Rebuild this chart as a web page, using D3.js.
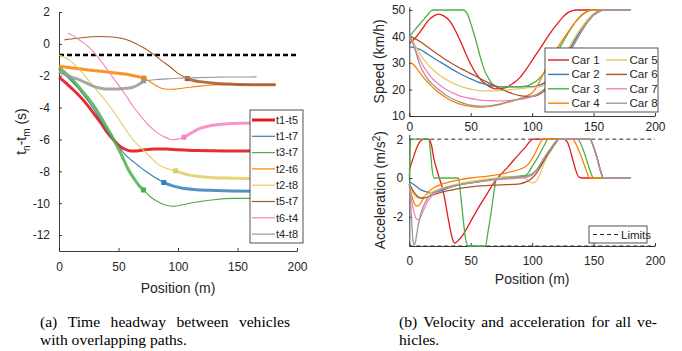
<!DOCTYPE html>
<html><head><meta charset="utf-8">
<script src="https://cdn.jsdelivr.net/npm/d3@7"></script>
<style>
body{margin:0;background:#fff}
svg{display:block}
</style>
</head><body>
<svg id="c" width="682" height="351"></svg>
<script>
// ---------------- DATA ----------------
const xTicks = [0, 50, 100, 150, 200];
const hwTicksY = [-12, -10, -8, -6, -4, -2, 0, 2];
const speedTicksY = [10, 20, 30, 40, 50];
const accelTicksY = [-2, 0, 2];
const headwayLimit = -0.7;
const accelLimits = [2, -3.5];

const pairNames = ["t1-t5", "t1-t7", "t3-t7", "t2-t6", "t2-t8", "t5-t7", "t6-t4", "t4-t8"];
const hw_t1t5 = [[0,-2.1],[5,-2.4],[10,-2.75],[15,-3.1],[20,-3.5],[25,-3.95],[30,-4.45],[35,-4.95],[40,-5.5],[45,-5.95],[50,-6.35],[55,-6.6],[60,-6.72],[65,-6.72],[72,-6.65],[80,-6.6],[90,-6.6],[100,-6.65],[115,-6.7],[140,-6.72],[165,-6.72]];
const hw_t1t7 = [[0,-1.65],[5,-1.95],[10,-2.3],[15,-2.7],[20,-3.15],[25,-3.65],[30,-4.2],[35,-4.8],[40,-5.4],[45,-5.95],[50,-6.45],[55,-6.9],[60,-7.25],[66,-7.6],[72,-7.95],[80,-8.35],[88,-8.7],[95,-8.9],[103,-9.05],[115,-9.15],[132,-9.2],[165,-9.25]];
const hw_t3t7 = [[0,-1.5],[5,-1.8],[10,-2.15],[15,-2.55],[20,-3.0],[26,-3.55],[32,-4.2],[38,-4.95],[43,-5.6],[48,-6.3],[53,-7.05],[58,-7.85],[63,-8.45],[67,-8.87],[71,-9.17],[76,-9.55],[81,-9.82],[86,-10.02],[91,-10.15],[96,-10.2],[104,-10.1],[110,-10.0],[118,-9.9],[130,-9.78],[146,-9.7],[165,-9.7]];
const hw_t2t6 = [[0,-1.4],[10,-1.5],[20,-1.6],[30,-1.68],[39,-1.75],[50,-1.85],[60,-1.95],[66,-2.05],[71.5,-2.15],[76,-2.35],[81,-2.6],[86,-2.78],[91,-2.85],[96,-2.85],[102,-2.8],[110,-2.72],[118,-2.65],[126,-2.6],[133,-2.57],[150,-2.55],[170,-2.55],[182,-2.56]];
const hw_t2t8 = [[0,-0.7],[5,-0.85],[10,-1.1],[15,-1.45],[20,-1.85],[25,-2.3],[30,-2.75],[35,-3.2],[40,-3.65],[45,-4.15],[50,-4.7],[55,-5.25],[60,-5.8],[65,-6.25],[70,-6.6],[76,-7.05],[83,-7.55],[90,-7.8],[98,-7.97],[105,-8.15],[112,-8.27],[118.5,-8.33],[130,-8.4],[146,-8.43],[165,-8.45]];
const hw_t5t7 = [[4.5,0.25],[15,0.35],[25,0.43],[33,0.46],[40,0.45],[47,0.42],[55,0.3],[64,0.04],[70,-0.2],[76.5,-0.5],[81,-0.75],[87,-1.1],[93,-1.42],[100,-1.85],[107.8,-2.18],[113,-2.3],[118.5,-2.37],[130,-2.47],[146,-2.53],[165,-2.56],[182,-2.57]];
const hw_t6t4 = [[7.6,0.68],[12,0.5],[18,0.2],[24.6,-0.17],[30,-0.6],[34.5,-1.0],[40,-1.55],[45,-2.1],[48.7,-2.45],[55,-3.1],[62,-3.9],[70,-4.65],[76.5,-5.2],[83,-5.6],[90.5,-5.9],[95,-6.02],[100,-5.98],[105,-5.86],[111,-5.6],[118.5,-5.3],[125,-5.17],[132.5,-5.08],[145,-5.0],[165,-4.97]];
const hw_t4t8 = [[0,-1.74],[5,-1.92],[10,-2.08],[15,-2.2],[20,-2.35],[27,-2.6],[35,-2.78],[43,-2.84],[50,-2.83],[56,-2.79],[62,-2.72],[67,-2.55],[71,-2.32],[80,-2.25],[90.5,-2.2],[100,-2.16],[115,-2.12],[132.5,-2.09],[150,-2.08],[166,-2.07]];
// position (m) where each headway curve changes between thick and thin
const hwMarkerPos = [null, 88, 71, 71.5, 98, 107.8, 105, 71];
const hwThickFirst = [true, false, true, true, false, false, false, true];

const carNames = ["Car 1", "Car 2", "Car 3", "Car 4", "Car 5", "Car 6", "Car 7", "Car 8"];
const speed_car1 = [[0,37.4],[5,39.5],[10,42.5],[15,45.8],[20,47.8],[24,48.4],[28,47.8],[33,45.8],[38,41.8],[42,37.8],[46,33.5],[50,29.5],[55,25.5],[60,22.8],[65,21.2],[71,20.2],[78,20.6],[85,22.5],[90,24.5],[95,27.5],[100,31],[105,34.5],[110,38],[115,41.5],[120,44.5],[125,47.3],[129,49],[133,49.8],[136,50],[180,50]];
const speed_car2 = [[0,36.1],[5,35.7],[10,34.8],[15,33.3],[20,31.8],[25,30.4],[30,29],[35,27.6],[40,26.3],[45,25.1],[50,24],[55,23],[60,22.2],[65,21.6],[70,21.2],[75,21],[80,21],[90,21],[100,21.1],[105,21.5],[110,22.5],[115,24.5],[120,27.5],[125,31],[130,35],[135,39],[140,42.5],[145,45.5],[150,48],[155,49.5],[158,50],[180,50]];
const speed_car3 = [[0,40],[5,42.8],[10,45.5],[15,48.2],[18,49.8],[20,50],[44,50],[47,48.7],[51,43.5],[54.5,38],[57.7,32.4],[61,27.5],[64.5,24.2],[67,22.4],[70,21.4],[74,21.1],[85,21.1],[95,21.3],[100,22.2],[105,23.8],[110,26.5],[115,30],[120,33.8],[125,37.8],[130,41.8],[135,45.3],[140,48],[145,49.5],[150,50],[180,50]];
const speed_car4 = [[0,30.3],[3,29.5],[6,28],[9,26.1],[12,24.3],[16,22.2],[20,20.4],[25,18.5],[30,16.9],[35,15.6],[40,14.7],[45,14],[50,13.6],[55,13.4],[60,13.4],[65,13.6],[70,14],[75,14.5],[80,15.1],[85,15.8],[90,16.6],[95,17.5],[100,18.7],[105,22],[110,26.8],[115,31.3],[120,35.3],[125,38.8],[130,42.2],[135,45.3],[140,47.8],[145,49.5],[148,50],[180,50]];
const speed_car5 = [[0,40],[3,38],[6,35.5],[10,32.5],[15,29.5],[20,27.2],[25,25.3],[30,23.8],[35,22.5],[40,21.5],[45,20.7],[50,20.1],[55,19.7],[60,19.5],[70,19.5],[80,19.8],[90,20.3],[100,20.8],[105,21],[108,21.3],[112,22.5],[116,24.8],[120,27.8],[125,31.8],[130,35.8],[135,39.8],[140,43.3],[145,46.3],[150,48.6],[155,49.8],[158,50],[180,50]];
const speed_car6 = [[0,40],[5,39.1],[10,37.7],[15,36],[20,34.3],[25,32.7],[30,31.1],[35,29.7],[40,28.4],[45,27.2],[50,26],[55,24.8],[60,23.6],[65,22.4],[70,21.2],[75,20.1],[80,19.1],[85,18.3],[90,17.7],[95,17.4],[100,17.4],[105,18],[110,19.5],[115,22],[120,25.5],[125,29.5],[130,33.8],[135,38],[140,42],[145,45.5],[150,48.2],[155,49.7],[158,50],[180,50]];
const speed_car7 = [[0,40],[3,37.5],[6,34],[10,30],[15,26.3],[20,23.6],[25,21.6],[30,20],[35,18.8],[40,17.8],[45,17.1],[50,16.6],[55,16.2],[60,15.9],[65,15.8],[70,15.7],[75,15.7],[80,15.8],[85,16],[90,16.3],[95,16.7],[100,17.3],[105,18.4],[110,20],[115,22.5],[120,25.8],[125,29.6],[130,33.7],[135,37.8],[140,41.8],[145,45.3],[150,48.2],[155,49.7],[158,50],[180,50]];
const speed_car8 = [[0,40],[2,38.5],[4,36],[6,33],[8,30],[10,27.8],[13,25.3],[16,23.3],[20,21.5],[25,19.5],[30,17.8],[35,16.5],[40,15.5],[45,14.7],[50,14.1],[55,13.8],[60,13.7],[65,13.8],[70,14.2],[75,14.7],[80,15.3],[85,15.9],[90,16.4],[95,16.9],[100,17.5],[105,18.5],[110,20.2],[115,22.6],[120,25.8],[125,29.6],[130,33.7],[135,37.8],[140,41.8],[145,45.3],[150,48.2],[155,49.7],[158,50],[180,50]];

const accel_car1 = [[0,0.4],[3,1.0],[6,1.55],[9,1.9],[12,2],[16,2],[18,1.7],[20,1.0],[24,0.1],[28,-0.8],[32,-2.2],[35,-3.1],[37,-3.35],[40,-3.2],[44,-2.9],[47,-2.58],[52,-2.0],[57.7,-1.38],[62,-0.95],[66,-0.53],[70,-0.15],[74,0.15],[80,0.55],[87.5,1.1],[94,1.55],[101,2],[126,2],[129,1.8],[132,1.2],[135,0.5],[138,0.05],[140,0],[180,0]];
const accel_car2 = [[0,-0.19],[4,-0.35],[8,-0.55],[12,-0.68],[17,-0.75],[22,-0.73],[28,-0.6],[35,-0.45],[45,-0.3],[55,-0.2],[65,-0.1],[75,-0.02],[85,0.05],[95,0.1],[100,0.2],[105,0.5],[110,0.95],[115,1.4],[119,1.8],[122,2],[147,2],[150,1.6],[153,1],[156,0.3],[158,0],[180,0]];
const accel_car3 = [[0,0],[0.5,1],[1,2],[15.7,2],[17,1.5],[18.5,0.5],[20,0],[40,0],[42,-1],[44,-2.2],[46,-3.2],[48,-3.5],[62,-3.5],[64,-2.8],[67,-1.6],[69,-0.7],[71.3,0],[80,0.05],[90,0.1],[95,0.15],[100,0.6],[105,1.1],[110,1.7],[113,2],[137,2],[140,1.7],[144,1],[147,0.4],[150,0],[180,0]];
const accel_car4 = [[0,-0.3],[2,-0.9],[4,-1.3],[6,-1.44],[8,-1.4],[11,-1.1],[15,-0.75],[20,-0.5],[25,-0.35],[30,-0.25],[40,-0.1],[50,0],[60,0.07],[70,0.15],[80,0.28],[90,0.45],[95,0.6],[99,0.9],[103,1.35],[106,1.75],[109,2],[133,2],[136,1.7],[140,1.1],[144,0.4],[147,0],[180,0]];
const accel_car5 = [[0,-0.3],[3,-0.75],[6,-1.0],[9,-1.05],[12,-0.95],[16,-0.8],[22,-0.62],[30,-0.45],[40,-0.3],[50,-0.18],[60,-0.08],[70,0],[80,0.05],[88,0.05],[95,-0.05],[98,-0.2],[101,-0.25],[104,-0.1],[107,0.3],[110,0.8],[114,1.3],[118,1.7],[122,2],[147,2],[150,1.6],[153,1],[156,0.3],[158,0],[180,0]];
const accel_car6 = [[0,-0.3],[3,-0.65],[6,-0.9],[9,-1.02],[12,-1.03],[16,-0.95],[20,-0.85],[28,-0.7],[36,-0.6],[45,-0.5],[55,-0.42],[65,-0.38],[75,-0.35],[85,-0.33],[90,-0.3],[95,-0.2],[99,-0.05],[103,0.2],[107,0.6],[111,1.05],[115,1.45],[119,1.8],[122,2],[147,2],[150,1.6],[153,1],[156,0.3],[158,0],[180,0]];
const accel_car7 = [[0,-0.5],[2,-1.2],[4,-1.8],[6,-2.12],[8,-2.15],[10,-1.9],[13,-1.45],[16,-1.1],[20,-0.82],[25,-0.62],[30,-0.5],[40,-0.35],[50,-0.25],[60,-0.17],[70,-0.1],[80,-0.04],[90,0],[96,0.05],[100,0.15],[104,0.45],[108,0.85],[112,1.25],[116,1.6],[119,1.85],[122,2],[147,2],[150,1.6],[153,1],[156,0.3],[158,0],[180,0]];
const accel_car8 = [[0,-0.3],[1,-1.2],[2,-2.3],[3,-3.2],[4,-3.45],[5,-3.3],[6,-2.9],[8,-2.2],[10,-1.7],[13,-1.25],[16,-0.95],[20,-0.75],[25,-0.6],[30,-0.5],[40,-0.35],[50,-0.25],[60,-0.15],[70,-0.06],[80,0],[90,0.05],[96,0.1],[100,0.2],[104,0.45],[108,0.85],[112,1.25],[116,1.6],[119,1.85],[122,2],[147,2],[150,1.6],[153,1],[156,0.3],[158,0],[180,0]];

// ---------------- BUILD ----------------
const colors = ["#e41a1c","#377eb8","#4daf4a","#ff7f00","#e2cc61","#a65628","#f781bf","#999999"];
const headway = [hw_t1t5, hw_t1t7, hw_t3t7, hw_t2t6, hw_t2t8, hw_t5t7, hw_t6t4, hw_t4t8];
const speeds = [speed_car1, speed_car2, speed_car3, speed_car4, speed_car5, speed_car6, speed_car7, speed_car8];
const accels = [accel_car1, accel_car2, accel_car3, accel_car4, accel_car5, accel_car6, accel_car7, accel_car8];

const FONT = '"Liberation Sans", Arial, Helvetica, sans-serif';
const INK = "#262626";
const svg = d3.select("#c");

const xL = d3.scaleLinear().domain([0, 200]).range([59, 297]);
const yL = d3.scaleLinear().domain([-13, 2]).range([251, 12]);
const xR = d3.scaleLinear().domain([0, 200]).range([409.3, 655]);
const yS = d3.scaleLinear().domain([10, 51.2]).range([116, 6.8]);
const yA = d3.scaleLinear().domain([-3.5, 2.25]).range([246, 134.3]);

function styleAxis(g) {
  g.attr("font-family", FONT).attr("font-size", 12);
  g.select(".domain").attr("stroke", INK).attr("stroke-width", 0.9);
  g.selectAll(".tick line").attr("stroke", INK).attr("stroke-width", 0.9);
  g.selectAll(".tick text").attr("fill", INK);
}
function drawAxes(x, y, xt, yt, xpad, ypad) {
  const gx = svg.append("g").attr("transform", `translate(0,${y.range()[0]})`)
    .call(d3.axisBottom(x).tickValues(xt).tickSizeInner(-3).tickSizeOuter(0).tickPadding(xpad).tickFormat(d => String(d)));
  styleAxis(gx);
  const gy = svg.append("g").attr("transform", `translate(${x.range()[0]},0)`)
    .call(d3.axisLeft(y).tickValues(yt).tickSizeInner(-3).tickSizeOuter(0).tickPadding(ypad).tickFormat(d => String(d)));
  styleAxis(gy);
}

// ----- Left: headway -----
drawAxes(xL, yL, xTicks, hwTicksY, 11, 9);
svg.append("line").attr("x1", xL(0)).attr("x2", xL(200)).attr("y1", yL(headwayLimit)).attr("y2", yL(headwayLimit))
  .attr("stroke", "#000").attr("stroke-width", 2.6).attr("stroke-dasharray", "5,3");

const lineL = d3.line().x(d => xL(d[0])).y(d => yL(d[1])).curve(d3.curveMonotoneX);
const THICK = 3, THIN = 1.1;
headway.forEach((pts, i) => {
  const c = colors[i];
  const m = hwMarkerPos[i];
  if (m === null) {
    svg.append("path").attr("d", lineL(pts)).attr("fill", "none").attr("stroke", c).attr("stroke-width", THICK).attr("stroke-opacity", 0.92);
    return;
  }
  const k = pts.findIndex(p => p[0] === m);
  const a = pts.slice(0, k + 1), b = pts.slice(k);
  svg.append("path").attr("d", lineL(a)).attr("fill", "none").attr("stroke", c)
    .attr("stroke-width", hwThickFirst[i] ? THICK : THIN).attr("stroke-opacity", hwThickFirst[i] ? 0.85 : 1);
  svg.append("path").attr("d", lineL(b)).attr("fill", "none").attr("stroke", c)
    .attr("stroke-width", hwThickFirst[i] ? THIN : THICK).attr("stroke-opacity", hwThickFirst[i] ? 1 : 0.85);
  svg.append("rect").attr("x", xL(pts[k][0]) - 2.5).attr("y", yL(pts[k][1]) - 2.5).attr("width", 5).attr("height", 5).attr("fill", c);
});

// legend left
const legL = svg.append("g");
legL.append("rect").attr("x", 250).attr("y", 110).attr("width", 53).attr("height", 133)
  .attr("fill", "#fff").attr("stroke", INK).attr("stroke-width", 0.8);
pairNames.forEach((n, i) => {
  const yy = 120 + i * 16.3;
  legL.append("line").attr("x1", 252).attr("x2", 275).attr("y1", yy).attr("y2", yy)
    .attr("stroke", colors[i]).attr("stroke-width", hwMarkerPos[i] === null ? THICK : 1.2);
  legL.append("text").attr("x", 276).attr("y", yy).attr("dy", "0.35em").attr("font-family", FONT)
    .attr("font-size", 11).attr("fill", INK).text(n);
});

// labels left
svg.append("text").attr("x", xL(100)).attr("y", 293).attr("text-anchor", "middle").attr("font-family", FONT)
  .attr("font-size", 14).attr("fill", INK).text("Position (m)");
const yl = svg.append("text").attr("transform", `translate(26,${(12 + 251) / 2}) rotate(-90)`).attr("text-anchor", "middle")
  .attr("font-family", FONT).attr("font-size", 14).attr("fill", INK);
yl.append("tspan").text("t");
yl.append("tspan").attr("dy", 3.5).attr("font-size", 10).text("n");
yl.append("tspan").attr("dy", -3.5).text("-t");
yl.append("tspan").attr("dy", 3.5).attr("font-size", 10).text("m");
yl.append("tspan").attr("dy", -3.5).text(" (s)");

// ----- Right top: speed -----
drawAxes(xR, yS, xTicks, speedTicksY, 6, 4);
const lineS = d3.line().x(d => xR(d[0])).y(d => yS(d[1])).curve(d3.curveMonotoneX);
speeds.forEach((pts, i) => {
  svg.append("path").attr("d", lineS(pts)).attr("fill", "none").attr("stroke", colors[i]).attr("stroke-width", 1.3);
});
const legS = svg.append("g");
legS.append("rect").attr("x", 545).attr("y", 48).attr("width", 113).attr("height", 64)
  .attr("fill", "#fff").attr("stroke", INK).attr("stroke-width", 0.8);
carNames.forEach((n, i) => {
  const col = Math.floor(i / 4), row = i % 4;
  const yy = 60 + row * 14.4;
  const x0 = col === 0 ? 548 : 606;
  legS.append("line").attr("x1", x0).attr("x2", x0 + 21).attr("y1", yy).attr("y2", yy)
    .attr("stroke", colors[i]).attr("stroke-width", 1.4);
  legS.append("text").attr("x", x0 + 23.5).attr("y", yy).attr("dy", "0.35em").attr("font-family", FONT)
    .attr("font-size", 11.5).attr("fill", INK).text(n);
});
svg.append("text").attr("transform", `translate(384,${(6.8 + 116) / 2}) rotate(-90)`).attr("text-anchor", "middle")
  .attr("font-family", FONT).attr("font-size", 14).attr("fill", INK).text("Speed (km/h)");

// ----- Right bottom: acceleration -----
drawAxes(xR, yA, xTicks, accelTicksY, 10, 6);
accelLimits.forEach(v => {
  svg.append("line").attr("x1", xR(0)).attr("x2", xR(200)).attr("y1", yA(v)).attr("y2", yA(v))
    .attr("stroke", INK).attr("stroke-width", 1).attr("stroke-dasharray", "4,3");
});
const lineA = d3.line().x(d => xR(d[0])).y(d => yA(d[1])).curve(d3.curveMonotoneX);
accels.forEach((pts, i) => {
  svg.append("path").attr("d", lineA(pts)).attr("fill", "none").attr("stroke", colors[i]).attr("stroke-width", 1.3);
});
const legA = svg.append("g");
legA.append("rect").attr("x", 589).attr("y", 226).attr("width", 58).attr("height", 17)
  .attr("fill", "#fff").attr("stroke", INK).attr("stroke-width", 0.8);
legA.append("line").attr("x1", 593).attr("x2", 619).attr("y1", 234.5).attr("y2", 234.5)
  .attr("stroke", INK).attr("stroke-width", 1).attr("stroke-dasharray", "4,3");
legA.append("text").attr("x", 621).attr("y", 234.5).attr("dy", "0.35em").attr("font-family", FONT)
  .attr("font-size", 11.5).attr("fill", INK).text("Limits");
svg.append("text").attr("x", xR(100)).attr("y", 284).attr("text-anchor", "middle").attr("font-family", FONT)
  .attr("font-size", 14).attr("fill", INK).text("Position (m)");
const al = svg.append("text").attr("transform", `translate(385,${(134.3 + 246) / 2}) rotate(-90)`).attr("text-anchor", "middle")
  .attr("font-family", FONT).attr("font-size", 14).attr("fill", INK);
al.append("tspan").text("Acceleration (m/s");
al.append("tspan").attr("dy", -5).attr("font-size", 10).text("2");
al.append("tspan").attr("dy", 5).text(")");

// ----- Captions -----
const SERIF = '"Liberation Serif", "Times New Roman", serif';
const CAP = 15.6;
function justified(words, x0, x1, y) {
  const g = svg.append("g");
  const ts = words.map(w => g.append("text").attr("y", y).attr("font-family", SERIF).attr("font-size", CAP).attr("fill", "#000").text(w));
  const widths = ts.map(t => t.node().getComputedTextLength());
  const gap = (x1 - x0 - d3.sum(widths)) / (words.length - 1);
  let x = x0;
  ts.forEach((t, i) => { t.attr("x", x); x += widths[i] + gap; });
}
function plain(str, x, y) {
  svg.append("text").attr("x", x).attr("y", y).attr("font-family", SERIF).attr("font-size", CAP).attr("fill", "#000").text(str);
}
justified(["(a)", "Time", "headway", "between", "vehicles"], 40, 290, 327);
plain("with overlapping paths.", 40, 345);
justified(["(b)", "Velocity", "and", "acceleration", "for", "all", "ve-"], 399, 657, 327);
plain("hicles.", 399, 345);
</script>
</body></html>
